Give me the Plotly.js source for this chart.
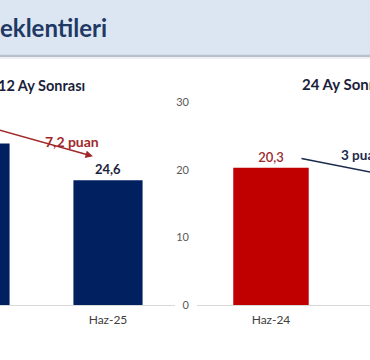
<!DOCTYPE html>
<html><head><meta charset="utf-8">
<script src="https://cdn.plot.ly/plotly-3.0.1.min.js"></script>
<style>html,body{margin:0;padding:0;background:#fff}#c{width:370px;height:360px}</style>
</head><body><div id="c"></div>
<script>
var pageTitle = 'Enflasyon Beklentileri';
var leftTitle = '12 Ay Sonrası';
var rightTitle = '24 Ay Sonrası';
var categories = ['Haz-24', 'Haz-25'];
var values12 = [31.8, 24.6];
var values24 = [20.3, 17.3];
var change12 = '7,2 puan';
var change24 = '3 puan';
var ticks24 = [0, 10, 20, 30];

var NAVY = '#002060', RED = '#c00000', FONT = 'Lato, "Open Sans", sans-serif';

var traces = [
  {type:'bar', x:categories, y:values12, xaxis:'x', yaxis:'y', width:0.52,
   marker:{color:NAVY}, texttemplate:'%{y:.1f}', textposition:'outside', cliponaxis:true,
   textfont:{family:FONT, size:13, color:'#1b1f3b', weight:700}, hoverinfo:'skip'},
  {type:'bar', x:categories, y:values24, xaxis:'x2', yaxis:'y2', width:0.51,
   marker:{color:[RED, NAVY]}, texttemplate:'%{y:.1f}', textposition:'outside', cliponaxis:true,
   textfont:{family:FONT, size:13, color:['#9c2a2a','#1b1f3b'], weight:600}, hoverinfo:'skip'}
];

var layout = {
  width:370, height:360, margin:{l:0, r:0, t:102, b:55},
  paper_bgcolor:'#ffffff', plot_bgcolor:'rgba(0,0,0,0)',
  separators:',.', showlegend:false, bargap:0.48,
  font:{family:FONT},
  title:{text:'<b>eklentileri</b>', x:0, xref:'paper', xanchor:'left', y:1-29/360, yanchor:'middle',
         font:{family:FONT, size:24, color:'#1f3864'}, pad:{l:0}},
  xaxis:{domain:[0, 174.5/370], range:[0.188, 1.5], type:'category', showline:true, linecolor:'#d9d9d9', linewidth:1,
         ticks:'', ticklabelstandoff:4, tickfont:{family:FONT, size:12, color:'#404040'}, showgrid:false, zeroline:false, fixedrange:true},
  yaxis:{range:[0, 40], showticklabels:false, showgrid:false, zeroline:false, showline:false},
  xaxis2:{domain:[197/370, 1], range:[-0.5, 0.669], type:'category', showline:true, linecolor:'#d9d9d9', linewidth:1,
          ticks:'', ticklabelstandoff:4, tickfont:{family:FONT, size:12, color:'#404040'}, showgrid:false, zeroline:false},
  yaxis2:{anchor:'x2', range:[0, 30], tickvals:ticks24, showgrid:false, zeroline:false, showline:false,
          ticks:'', ticklabelstandoff:7, tickfont:{family:FONT, size:11, color:'#595959'}},
  shapes:[
    {type:'rect', xref:'paper', yref:'paper', x0:-0.1, x1:1.1, y0:1+47/203, y1:1+110/203, fillcolor:'#dce6f2', line:{width:0}, layer:'below'},
    {type:'line', xref:'paper', yref:'paper', x0:-0.1, x1:1.1, y0:1+46/203, y1:1+46/203, line:{color:'#b8c0cc', width:2.5}},
    {type:'line', xref:'paper', yref:'paper', x0:-0.1, x1:1.1, y0:1+44/203, y1:1+44/203, line:{color:'#eef0f3', width:2}}
  ],
  annotations:[
    {xref:'paper', yref:'paper', x:-4/370, y:1+17/203, xanchor:'left', yanchor:'middle', showarrow:false,
     text:'<b>'+leftTitle+'</b>', font:{family:FONT, size:14.5, color:'#1b1f3b'}},
    {xref:'paper', yref:'paper', x:300/370, y:1+18/203, xanchor:'left', yanchor:'middle', showarrow:false,
     text:'<b>'+rightTitle+'</b>', font:{family:FONT, size:15, color:'#1b1f3b'}},
    {xref:'x', yref:'y', axref:'x', ayref:'y', x:0.887, y:29.3, ax:0.0, ay:35.8, showarrow:true,
     arrowhead:2, arrowsize:1, arrowwidth:1.5, arrowcolor:'#a0282a', text:''},
    {xref:'x', yref:'y', x:0.73, y:32.3, showarrow:false, text:'<b>'+change12+'</b>',
     font:{family:FONT, size:14, color:'#a0282a'}},
    {xref:'x2', yref:'y2', axref:'x2', ayref:'y2', x:0.87, y:18.8, ax:0.196, ay:21.7, showarrow:true,
     arrowhead:2, arrowsize:1, arrowwidth:1.5, arrowcolor:'#1b2a4a', text:''},
    {xref:'x2', yref:'y2', x:0.459, y:22.2, xanchor:'left', showarrow:false, text:'<b>'+change24+'</b>',
     font:{family:FONT, size:13.5, color:'#1b2a4a'}}
  ]
};
Plotly.newPlot('c', traces, layout, {staticPlot:true, displayModeBar:false});
</script></body></html>
